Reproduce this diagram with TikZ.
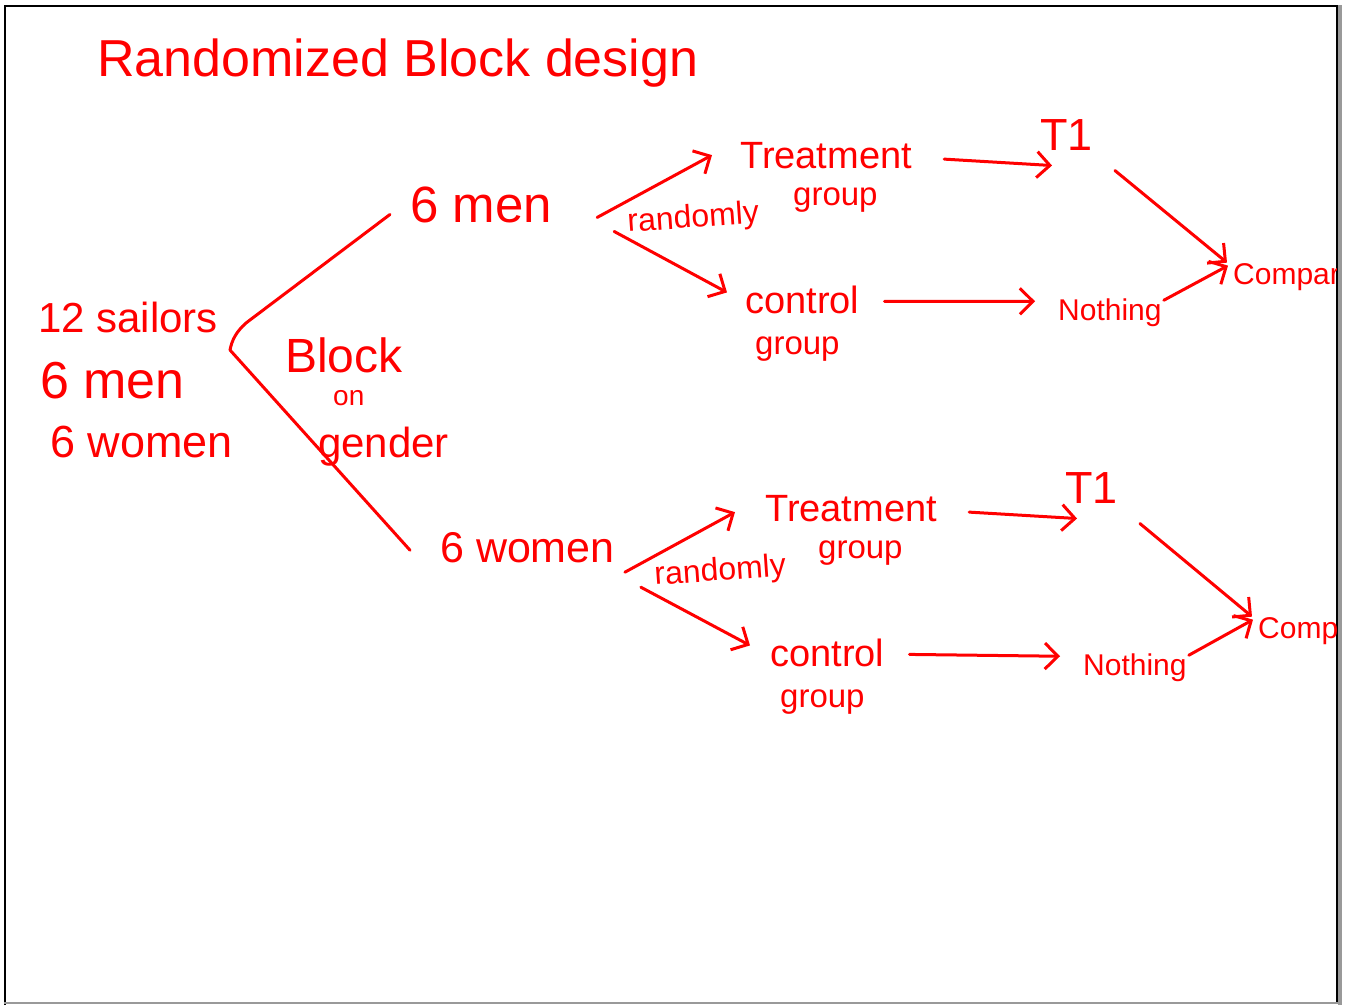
\documentclass[tikz,border=0pt]{standalone}
\usepackage{fontspec}
\setmainfont{Liberation Sans}
\usetikzlibrary{arrows.meta,calc}
\definecolor{pen}{RGB}{255,0,0}
\begin{document}
\begin{tikzpicture}[x=1pt,y=-1pt,
  hand/.style={text=pen, inner sep=0pt, anchor=base west,
               font=\fontsize{#1}{#1}\selectfont},
  wire/.style={draw=pen, line width=3pt, line cap=round, line join=round},
  arr/.style={wire, -{Straight Barb[length=13pt,width=26pt,line width=3pt]}}]

% page and frame
\useasboundingbox (0,0) rectangle (1345,1005);
\fill[white] (0,0) rectangle (1345,1005);
\draw[black, line width=2pt] (4.5,1005) -- (4.5,5.5) -- (1337,5.5) -- (1337,1002);
\fill[black!40] (1338,5) rectangle (1342,1005);
\draw[black!40, line width=2pt] (4,1003) -- (1342,1003);

% title
\node[hand=52] (title) at (97,76) {Randomized Block design};

% the sample
\node[hand=42] (s12) at (38,332) {12 sailors};
\node[hand=52] (smen) at (40,398) {6 men};
\node[hand=45] (swomen) at (50,457) {6 women};

% blocking note
\node[hand=48] (block) at (285,372) {Block};
\node[hand=28] (on) at (333,405) {on};
\node[hand=42] (gender) at (318,457) {gender};

% blocks
\node[hand=51] (men1) at (410,222) {6 men};
\node[hand=43] (women1) at (440,562) {6 women};

\begin{scope}
\clip (0,0) rectangle (1336,1005);
% men block
\node[hand=32, rotate=4] (rand1) at (628,232) {randomly};
\node[hand=38] (treat1) at (740,168) {Treatment};
\node[hand=33] (grp1) at (793,205) {group};
\node[hand=38] (ctrl1) at (745,313) {control};
\node[hand=33] (grp1b) at (755,354) {group};
\node[hand=45] (t1a) at (1040,150) {T1};
\node[hand=30] (noth1) at (1058,320) {Nothing};
\node[hand=30] (cmp1) at (1233,284) {Compare};
% women block
\node[hand=32, rotate=4] (rand2) at (655,585) {randomly};
\node[hand=38] (treat2) at (765,521) {Treatment};
\node[hand=33] (grp2) at (818,558) {group};
\node[hand=38] (ctrl2) at (770,666) {control};
\node[hand=33] (grp2b) at (780,707) {group};
\node[hand=45] (t1b) at (1065,503) {T1};
\node[hand=30] (noth2) at (1083,675) {Nothing};
\node[hand=30] (cmp2) at (1258,638) {Compare};
\end{scope}

% split into the two blocks
\coordinate (fork) at (230,350);
\draw[wire] (fork) .. controls (232,340) and (236,332) .. (246,323)
  -- ($(men1.west)+(-20,10)$);
\draw[wire] (fork) -- ($(women1.west)+(-30,3)$);

% men block connectors
\draw[arr] ($(men1.east)+(45,13)$) -- ($(treat1.west)+(-28,0)$);
\draw[arr] ($(men1.east)+(62,27)$) -- ($(ctrl1.west)+(-18,-7)$);
\draw[arr] ($(treat1.east)+(32,4)$) -- ($(t1a.west)+(12,31)$);
\draw[arr] ($(ctrl1.east)+(25,2)$) -- ($(noth1.west)+(-23,-11)$);
\draw[arr] ($(t1a.east)+(22,36)$) -- ($(cmp1.west)+(-6,-14)$);
\draw[arr] ($(noth1.east)+(2,-12)$) -- ($(cmp1.west)+(-5,-11)$);

% women block connectors
\draw[arr] ($(women1.east)+(10,25)$) -- ($(treat2.west)+(-30,4)$);
\draw[arr] ($(women1.east)+(26,40)$) -- ($(ctrl2.west)+(-20,-7)$);
\draw[arr] ($(treat2.east)+(32,4)$) -- ($(t1b.west)+(12,31)$);
\draw[arr] ($(ctrl2.east)+(25,2)$) -- ($(noth2.west)+(-23,-11)$);
\draw[arr] ($(t1b.east)+(22,36)$) -- ($(cmp2.west)+(-6,-14)$);
\draw[arr] ($(noth2.east)+(2,-12)$) -- ($(cmp2.west)+(-5,-11)$);
\end{tikzpicture}
\end{document}
